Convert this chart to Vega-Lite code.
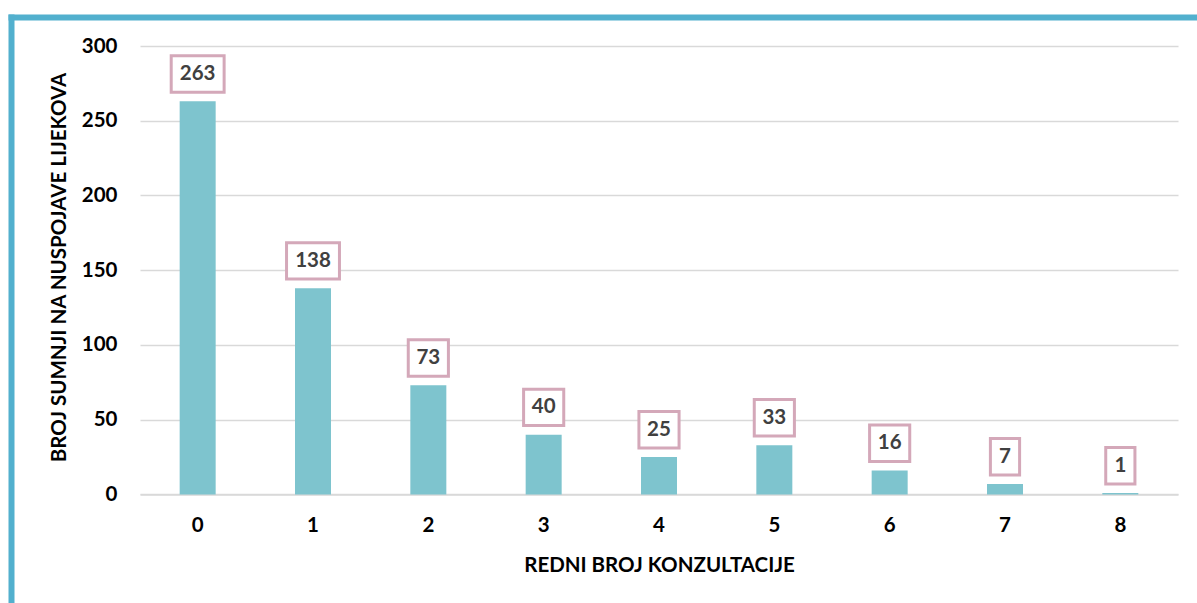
{
  "$schema": "https://vega.github.io/schema/vega-lite/v6.json",
  "width": 1186,
  "height": 586,
  "autosize": {"type": "none"},
  "padding": {"left": 11, "top": 17, "right": 0, "bottom": 0},
  "background": "white",
  "config": {
    "view": {"stroke": null},
    "font": "Lato"
  },
  "data": {
    "values": [
      {"k": "0", "n": 263},
      {"k": "1", "n": 138},
      {"k": "2", "n": 73},
      {"k": "3", "n": 40},
      {"k": "4", "n": 25},
      {"k": "5", "n": 33},
      {"k": "6", "n": 16},
      {"k": "7", "n": 7},
      {"k": "8", "n": 1}
    ]
  },
  "layer": [
    {
      "encoding": {
        "x": {
          "field": "k",
          "type": "ordinal",
          "scale": {"type": "band", "range": [129, 1167], "paddingInner": 0, "paddingOuter": 0},
          "axis": {
            "orient": "bottom",
            "offset": -108.5,
            "labelAngle": 0,
            "ticks": false,
            "domain": true,
            "domainColor": "#d9d9d9",
            "domainWidth": 1.5,
            "labelFont": "Lato",
            "labelFontWeight": "bold",
            "labelFontSize": 20.5,
            "labelColor": "#000000",
            "labelBaseline": "middle",
            "labelPadding": 31,
            "title": "REDNI BROJ KONZULTACIJE",
            "titleFont": "Lato",
            "titleFontWeight": "bold",
            "titleFontSize": 20.5,
            "titleColor": "#000000",
            "titleX": 648,
            "titleY": 70.5,
            "titleAlign": "center",
            "titleBaseline": "middle"
          }
        },
        "y": {
          "field": "n",
          "type": "quantitative",
          "scale": {"domain": [-72.6, 319.4], "nice": false, "zero": false},
          "axis": {
            "orient": "left",
            "values": [0, 50, 100, 150, 200, 250, 300],
            "grid": true,
            "gridColor": "#d9d9d9",
            "gridWidth": 1.5,
            "ticks": false,
            "domain": true,
            "domainColor": "#52b0ce",
            "domainWidth": 6,
            "domainCap": "square",
            "labelPadding": -106,
            "labelAlign": "right",
            "labelBaseline": "middle",
            "labelFont": "Lato",
            "labelFontWeight": "bold",
            "labelFontSize": 20.5,
            "labelColor": "#000000",
            "title": "BROJ SUMNJI NA NUSPOJAVE LIJEKOVA",
            "titleFont": "Lato",
            "titleFontWeight": "bold",
            "titleFontSize": 20.5,
            "titleColor": "#000000",
            "titleAngle": 270,
            "titleX": 48,
            "titleY": 250,
            "titleAlign": "center",
            "titleBaseline": "middle"
          }
        }
      },
      "layer": [
        {
          "mark": {"type": "bar", "width": 36, "color": "#7ec4ce"},
          "encoding": {"y2": {"datum": 0}}
        },
        {
          "mark": {
            "type": "point",
            "filled": true,
            "fill": "white",
            "stroke": "#d4a8b9",
            "strokeWidth": 3,
            "opacity": 1,
            "size": 1332,
            "yOffset": -27.3
          },
          "encoding": {
            "shape": {
              "condition": [
                {"test": "datum.n >= 100", "value": "M-1.45,-1L1.45,-1L1.45,1L-1.45,1Z"},
                {"test": "datum.n >= 10", "value": "M-1.1,-1L1.1,-1L1.1,1L-1.1,1Z"}
              ],
              "value": "M-0.8,-1L0.8,-1L0.8,1L-0.8,1Z"
            }
          }
        },
        {
          "mark": {
            "type": "text",
            "font": "Lato",
            "fontWeight": "bold",
            "fontSize": 20.5,
            "color": "#404040",
            "baseline": "middle",
            "align": "center",
            "yOffset": -27.3
          },
          "encoding": {"text": {"field": "n", "type": "quantitative"}}
        }
      ]
    },
    {
      "mark": {"type": "point", "opacity": 0},
      "encoding": {
        "x": {
          "datum": 0,
          "type": "quantitative",
          "scale": {"domain": [0, 1]},
          "axis": {
            "orient": "top",
            "domain": true,
            "domainColor": "#52b0ce",
            "domainWidth": 6,
            "domainCap": "square",
            "labels": false,
            "ticks": false,
            "grid": false,
            "title": null
          }
        }
      }
    }
  ],
  "resolve": {"scale": {"x": "independent"}, "axis": {"x": "independent"}}
}
